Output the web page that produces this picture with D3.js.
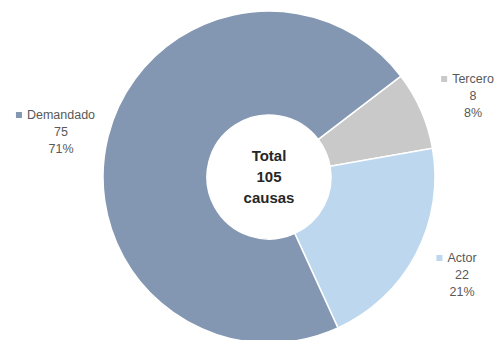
<!DOCTYPE html>
<html>
<head>
<meta charset="utf-8">
<script src="https://cdn.jsdelivr.net/npm/d3@7/dist/d3.min.js"></script>
<style>
  html, body { margin: 0; padding: 0; background: #fff; }
  svg { display: block; }
  text { font-family: "Liberation Sans", Arial, sans-serif; }
</style>
</head>
<body>
<svg id="chart" width="494" height="340"></svg>
<script>
// Causas por parte
const categories = ["Tercero", "Actor", "Demandado"];
const values = [8, 22, 75];
const percentLabels = ["8%", "21%", "71%"];
const colors = ["#c9c9c9", "#bdd7ee", "#8397b2"];
const centerLines = ["Total", "105", "causas"];

const width = 494, height = 340;
const cx = 269, cy = 177;
const outerR = 166, innerR = 62;

const svg = d3.select("#chart");
const g = svg.append("g").attr("transform", `translate(${cx},${cy})`);

const pie = d3.pie()
  .sort(null)
  .value(d => d)
  .startAngle(52.6 * Math.PI / 180)
  .endAngle(52.6 * Math.PI / 180 + 2 * Math.PI);

const arcs = pie(values);
const arc = d3.arc().innerRadius(innerR).outerRadius(outerR);

g.selectAll("path.slice")
  .data(arcs)
  .join("path")
  .attr("class", "slice")
  .attr("d", arc)
  .attr("fill", (d, i) => colors[i])
  .attr("stroke", "#fff")
  .attr("stroke-width", 1.5);

// Center caption
g.selectAll("text.center")
  .data(centerLines)
  .join("text")
  .attr("class", "center")
  .attr("x", 0)
  .attr("y", (d, i) => (i - 1) * 21)
  .attr("dy", "0.35em")
  .attr("text-anchor", "middle")
  .attr("font-size", 15)
  .attr("font-weight", "bold")
  .attr("fill", "#262626")
  .text(d => d);

// Outside labels: marker + name, value, percent
const labelPos = [
  { x: 473, y: 79 },   // Tercero
  { x: 462, y: 258 },  // Actor
  { x: 61, y: 115 }    // Demandado
];

const labels = svg.selectAll("g.label")
  .data(arcs)
  .join("g")
  .attr("class", "label")
  .attr("transform", (d, i) => `translate(${labelPos[i].x},${labelPos[i].y})`);

labels.each(function (d, i) {
  const sel = d3.select(this);
  const name = sel.append("text")
    .attr("text-anchor", "middle")
    .attr("dy", "0.35em")
    .attr("font-size", 12.5)
    .attr("fill", "#595959")
    .text(categories[i]);
  const w = name.node().getComputedTextLength();
  sel.append("rect")
    .attr("x", -w / 2 - 11)
    .attr("y", -3)
    .attr("width", 6)
    .attr("height", 6)
    .attr("fill", colors[i]);
  sel.append("text")
    .attr("text-anchor", "middle")
    .attr("y", 17)
    .attr("dy", "0.35em")
    .attr("font-size", 12.5)
    .attr("fill", "#595959")
    .text(values[i]);
  sel.append("text")
    .attr("text-anchor", "middle")
    .attr("y", 34)
    .attr("dy", "0.35em")
    .attr("font-size", 12.5)
    .attr("fill", "#595959")
    .text(percentLabels[i]);
});
</script>
</body>
</html>
